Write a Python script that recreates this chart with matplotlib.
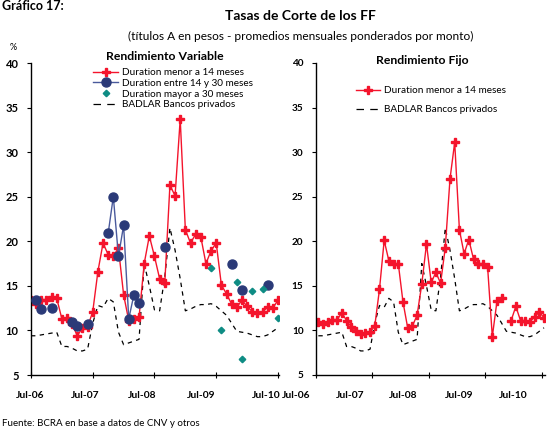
import numpy as np
import matplotlib
matplotlib.use('Agg')
import matplotlib.pyplot as plt
from matplotlib.lines import Line2D
from matplotlib.transforms import ScaledTranslation

nan = np.nan

# ---------------- data (monthly, Jul-06 ... Jul-10) ----------------
tick_months = [0, 12, 24, 36, 48]
tick_labels = ["Jul-06", "Jul-07", "Jul-08", "Jul-09", "Jul-10"]
y_ticks = [5, 10, 15, 20, 25, 30, 35, 40]

var_menor14 = [13.4, 13.0, 13.4, 13.4, 13.8, 13.6, 11.3, 11.45, 10.7, 9.4,
               10.3, 10.4, 12.1, 16.6, 19.8, 18.5, 18.4, 19.2, 14.0, 11.1,
               11.3, 11.5, 17.5, 20.6, 18.3, 15.8, 15.3, 26.3, 25.1, 33.7,
               21.3, 19.8, 20.8, 20.5, 17.5, 18.95, 19.8, 15.1, 14.1, 12.95,
               12.6, 13.4, 12.7, 12.1, 11.9, 12.1, 12.6, 12.5, 13.4]

var_14a30 = [nan, 13.4, 12.45, nan, 12.5, nan, nan, nan, 10.9, 10.45,
             nan, 10.75, nan, nan, nan, 20.9, 25.0, 18.3, 21.8, 11.3,
             14.0, 13.1, nan, nan, nan, nan, 19.4, nan, nan, nan,
             nan, nan, nan, nan, nan, nan, nan, nan, nan, 17.5,
             nan, 14.5, nan, nan, nan, nan, 15.15, nan, nan]

var_mayor30 = [nan] * 35 + [17.0, nan, 10.1, nan, nan, 15.4, 6.8, nan, 14.4,
                            nan, 14.7, nan, nan, 11.45]

badlar = [9.4, 9.4, 9.5, 9.6, 9.7, 9.8, 8.2, 8.2, 8.0, 7.7,
          7.7, 7.9, 10.8, 12.8, 12.6, 13.6, 13.2, 9.8, 8.4, 8.6,
          8.8, 9.0, 17.5, 15.0, 12.3, 12.2, 16.0, 21.5, 19.0, 15.8,
          12.2, 12.4, 12.7, 12.9, 12.9, 13.0, 12.7, 12.2, 11.7, 10.8,
          9.9, 9.8, 9.7, 9.5, 9.3, 9.3, 9.5, 9.9, 10.3]

fijo_menor14 = [10.9, 10.7, 11.0, 11.2, 11.2, 12.0, 11.1, 10.4, 9.9, 9.6,
                9.7, 9.8, 10.5, 14.6, 20.1, 17.8, 17.4, 17.5, 13.2, 10.3,
                10.5, 11.7, 15.2, 19.7, 15.4, 16.5, 15.3, 19.3, 27.0, 31.1,
                21.3, 18.6, 20.2, 18.0, 17.4, 17.4, 17.1, 9.3, 13.3, 13.6,
                nan, 11.1, 12.7, 11.1, 11.1, 11.0, 11.5, 12.1, 11.4]

# ---------------- style ----------------
RED = '#F4142C'
NAVY = '#2B3A78'
NAVY_LINE = '#4A5A9C'
TEAL = '#0E8C84'
FONT = 'Lato'
plt.rcParams['font.family'] = [FONT, 'DejaVu Sans']
DASH = (0, (3.5, 3.5))

W, H = 560, 432
fig = plt.figure(figsize=(W / 100, H / 100), dpi=100)


def fx(px):
    return px / W


def fy(py):
    return 1 - py / H


axL = fig.add_axes([fx(31), fy(375), (279 - 31) / W, (375 - 63) / H])
axR = fig.add_axes([fx(316), fy(375), (544.5 - 316) / W, (375 - 63) / H])

xL = np.arange(len(var_menor14))
xR = np.arange(len(fijo_menor14)) + 0.5

# Left panel
axL.plot(xL, badlar, color='black', lw=0.9, ls=DASH, zorder=1)
axL.plot(xL, var_menor14, color=RED, lw=1.0, marker='P', ms=5.2,
         mec=RED, mfc=RED, zorder=2)
axL.plot(xL, var_14a30, color=NAVY_LINE, lw=1.0, marker='o', ms=6.5,
         mec=NAVY, mfc=NAVY, zorder=3)
axL.plot(xL, var_mayor30, ls='none', marker='D', ms=3.3,
         mec=TEAL, mfc=TEAL, zorder=4)

# Right panel
axR.plot(xR, badlar, color='black', lw=0.9, ls=DASH, zorder=1)
axR.plot(xR, fijo_menor14, color=RED, lw=1.0, marker='P', ms=5.2,
         mec=RED, mfc=RED, zorder=2)

# per-label horizontal shifts (pixels) of the x tick labels, as in the reference
label_shift = {axL: [-0.5, -7.7, -12, -15, -12],
               axR: [-19.5, -22, -26, -26, -28]}
ysize = {axL: 8.0, axR: 7.2}

for ax, xmax in [(axL, 48.2), (axR, 48.6)]:
    ax.set_xlim(0, xmax)
    ax.set_ylim(5, 40)
    for s in ['top', 'right']:
        ax.spines[s].set_visible(False)
    for s in ['left', 'bottom']:
        ax.spines[s].set_linewidth(1.0)
    ax.set_yticks(y_ticks)
    ax.set_yticklabels([str(v) for v in y_ticks])
    ax.set_xticks(tick_months)
    ax.set_xticklabels(tick_labels)
    ax.tick_params(axis='y', direction='out', length=3, width=0.8, pad=6)
    ax.tick_params(axis='x', direction='inout', length=5, width=0.8, pad=9)

# Titles and texts
fig.text(fx(2), 1.0, "Gráfico 17:", fontsize=9, fontweight='bold',
         ha='left', va='top')
fig.text(fx(300), fy(16), "Tasas de Corte de los FF", fontsize=10,
         fontweight='bold', ha='center', va='center')
fig.text(fx(301), fy(36),
         "(títulos A en pesos - promedios mensuales ponderados por monto)",
         fontsize=8.6, ha='center', va='center')
fig.text(fx(13), fy(47), "%", fontsize=6.5, ha='center', va='center')
fig.text(fx(165), fy(57), "Rendimiento Variable", fontsize=8.8,
         fontweight='bold', ha='center', va='center')
fig.text(fx(422), fy(60), "Rendimiento Fijo", fontsize=8.8,
         fontweight='bold', ha='center', va='center')
fig.text(fx(2), fy(424), "Fuente: BCRA en base a datos de CNV y otros",
         fontsize=7, ha='left', va='center')

# Legends
h_red = Line2D([], [], color=RED, lw=1.0, marker='P', ms=5.2, mec=RED, mfc=RED)
h_navy = Line2D([], [], color=NAVY_LINE, lw=1.0, marker='o', ms=6.5,
                mec=NAVY, mfc=NAVY)
h_teal = Line2D([], [], ls='none', marker='D', ms=3.3, mec=TEAL, mfc=TEAL)
h_bad = Line2D([], [], color='black', lw=0.9, ls=(0, (6, 5)))

fig.legend([h_red, h_navy, h_teal, h_bad],
           ["Duration menor a 14 meses", "Duration entre 14 y 30 meses",
            "Duration mayor a 30 meses", "BADLAR Bancos privados"],
           loc='upper left', bbox_to_anchor=(fx(93), fy(68)),
           frameon=False, fontsize=7.2, handlelength=2.5,
           handletextpad=0.35, labelspacing=0.18, borderpad=0,
           borderaxespad=0)
fig.legend([h_red, h_bad],
           ["Duration menor a 14 meses", "BADLAR Bancos privados"],
           loc='upper left', bbox_to_anchor=(fx(356), fy(86)),
           frameon=False, fontsize=7.2, handlelength=2.4,
           handletextpad=0.35, labelspacing=1.05, borderpad=0,
           borderaxespad=0)

fig.canvas.draw()
for ax in (axL, axR):
    for lbl in ax.get_yticklabels():
        lbl.set_fontweight('bold')
        lbl.set_fontsize(ysize[ax])
    for lbl, dx in zip(ax.get_xticklabels(), label_shift[ax]):
        lbl.set_fontweight('bold')
        lbl.set_fontsize(7.4)
        lbl.set_transform(lbl.get_transform() +
                          ScaledTranslation(dx / 100, 0, fig.dpi_scale_trans))

fig.savefig('out.png', dpi=100)
